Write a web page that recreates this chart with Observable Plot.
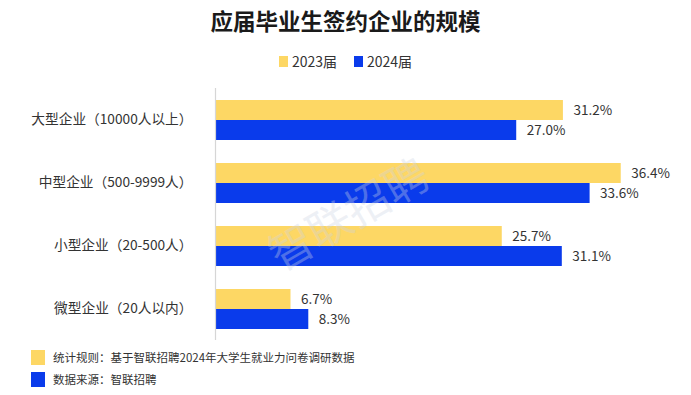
<!DOCTYPE html>
<html><head><meta charset="utf-8">
<script src="https://cdn.jsdelivr.net/npm/d3@7"></script>
<script src="https://cdn.jsdelivr.net/npm/@observablehq/plot@0.6"></script>
<style>
body{margin:0;background:#fff;font-family:"Noto Sans CJK SC","Noto Sans",sans-serif;color:#333;}
#wrap{position:relative;width:691px;height:395px;overflow:hidden;}
#title{position:absolute;top:4px;left:0;width:691px;text-align:center;font-size:22.5px;font-weight:bold;color:#1a1a1a;}
#legend{position:absolute;top:51px;left:0;width:691px;display:flex;justify-content:center;gap:17px;font-size:14px;color:#333;}
#legend span{display:flex;align-items:center;}
#legend i{display:inline-block;width:9px;height:11px;margin-right:4px;}
#chart{position:absolute;top:87.5px;left:0;}
#foot{position:absolute;left:31px;top:346px;font-size:11.5px;color:#333;}
#foot div{display:flex;align-items:center;height:22px;}
#foot i{display:inline-block;width:14px;height:15px;margin-right:8px;}
#wm{position:absolute;left:255px;top:228px;font-size:44px;color:rgba(205,212,228,0.35);transform:rotate(-30deg);transform-origin:left top;white-space:nowrap;pointer-events:none;}
</style></head>
<body><div id="wrap">
<div id="title">应届毕业生签约企业的规模</div>
<div id="legend"></div>
<div id="chart"></div>
<div id="foot"></div>
<div id="wm">智联招聘</div>
</div>
<script>
const categories = ["大型企业（10000人以上）","中型企业（500-9999人）","小型企业（20-500人）","微型企业（20人以内）"];
const series = ["2023届","2024届"];
const values2023 = [31.2,36.4,25.7,6.7];
const values2024 = [27.0,33.6,31.1,8.3];
const colors = ["#FDD764","#0A3BEB"];
const notes = ["统计规则：基于智联招聘2024年大学生就业力问卷调研数据","数据来源：智联招聘"];

const data = categories.flatMap((c,i)=>[
  {cat:c, year:series[0], v:values2023[i]},
  {cat:c, year:series[1], v:values2024[i]}
]);

const leg = document.getElementById("legend");
series.forEach((s,i)=>{
  const sp=document.createElement("span");
  sp.innerHTML=`<i style="background:${colors[i]}"></i>${s}`;
  leg.appendChild(sp);
});
const foot=document.getElementById("foot");
notes.forEach((n,i)=>{
  const d=document.createElement("div");
  d.innerHTML=`<i style="background:${colors[i]}"></i>${n}`;
  foot.appendChild(d);
});

const chart = Plot.plot({
  width:691, height:252,
  marginLeft:216, marginRight:8, marginTop:0, marginBottom:0,
  style:{fontFamily:'"Noto Sans CJK SC","Noto Sans",sans-serif', color:"#333", background:"transparent"},
  x:{domain:[0,42], axis:null},
  y:{domain:series, axis:null, paddingInner:0, paddingOuter:0.537},
  fy:{domain:categories, padding:0, axis:null},
  color:{domain:series, range:colors},
  marks:[
    Plot.barX(data,{x:"v", y:"year", fy:"cat", fill:"year"}),
    Plot.text(data,{x:"v", y:"year", fy:"cat", text:d=>d.v.toFixed(1)+"%", textAnchor:"start", dx:10, fontSize:13.5, fill:"#333"}),
    Plot.ruleX([0],{stroke:"#d6d6d6", strokeWidth:1.2, dx:-1}),
    Plot.axisFy({anchor:"left", tickSize:0, tickPadding:24, fontSize:13.7, label:null})
  ]
});
document.getElementById("chart").appendChild(chart);
</script>
</body></html>
